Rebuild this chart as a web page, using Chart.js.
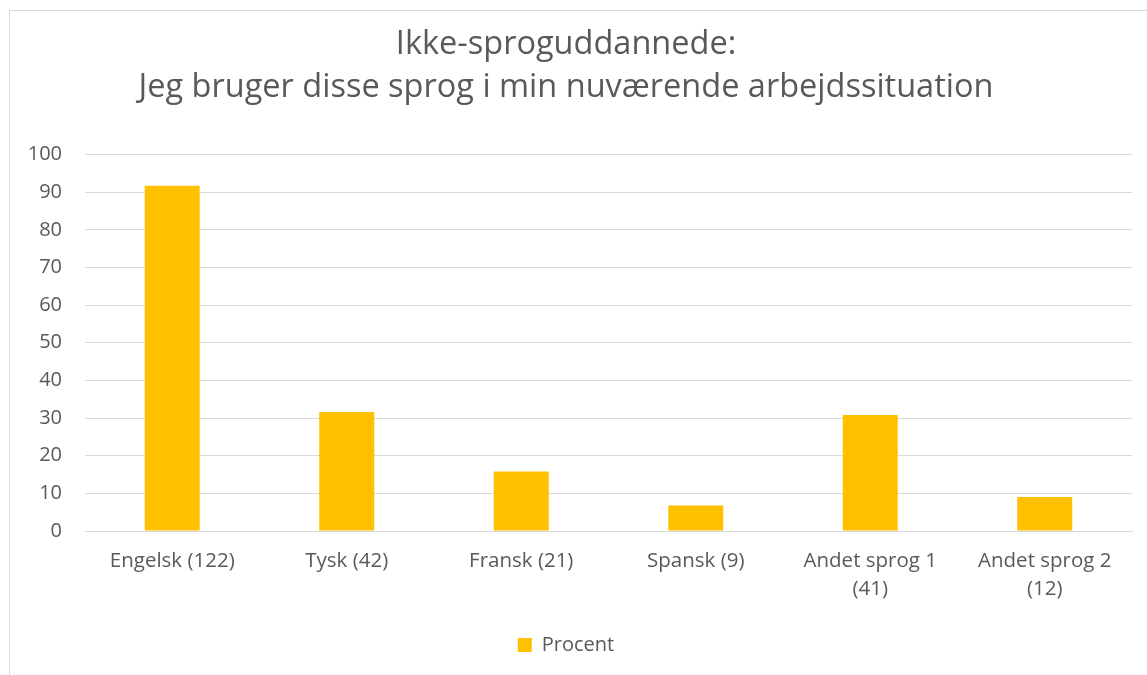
<!DOCTYPE html>
<html>
<head>
<meta charset="utf-8">
<script src="https://cdn.jsdelivr.net/npm/chart.js@4/dist/chart.umd.min.js"></script>
<style>
  body { margin: 0; background: #fff; }
  #frame { position: absolute; left: 9px; top: 10px; width: 1150px; height: 680px; border: 1px solid #d9d9d9; }
  #wrap { position: absolute; left: 0; top: 0; width: 1147px; height: 675px; }
</style>
</head>
<body>
<div id="frame"></div>
<div id="wrap"><canvas id="chart"></canvas></div>
<script>
// ==================
// Chart data
// ==================
const categories = ["Engelsk (122)", "Tysk (42)", "Fransk (21)", "Spansk (9)", ["Andet sprog 1", "(41)"], ["Andet sprog 2", "(12)"]];
const procent = [91.7, 31.6, 15.8, 6.8, 30.8, 9.0];
const yTicks = [0, 10, 20, 30, 40, 50, 60, 70, 80, 90, 100];
const titleLines = ["Ikke-sproguddannede:", "Jeg bruger disse sprog i min nuværende arbejdssituation"];

const textColor = "#595959";
const gridColor = "#d9d9d9";
const fontFamily = "'Open Sans', sans-serif";

const ctx = document.getElementById("chart").getContext("2d");
new Chart(ctx, {
  type: "bar",
  data: {
    labels: categories,
    datasets: [{
      label: "Procent",
      data: procent,
      backgroundColor: "#ffc000",
      borderWidth: 0,
      categoryPercentage: 1,
      barPercentage: 0.315
    }]
  },
  options: {
    responsive: true,
    maintainAspectRatio: false,
    animation: false,
    layout: { padding: { left: 0, right: 15, top: 0, bottom: 10 } },
    plugins: {
      title: {
        display: true,
        text: titleLines,
        color: textColor,
        font: { family: fontFamily, size: 32.5, weight: "normal", lineHeight: 1.3 },
        padding: { top: 24, bottom: 46 }
      },
      legend: {
        position: "bottom",
        labels: {
          color: textColor,
          font: { family: fontFamily, size: 20 },
          boxWidth: 14,
          boxHeight: 14,
          padding: 10
        }
      },
      tooltip: { enabled: false }
    },
    scales: {
      x: {
        grid: { display: false, drawTicks: false },
        border: { display: true, color: gridColor, width: 1 },
        ticks: {
          color: textColor,
          font: { family: fontFamily, size: 20.5, lineHeight: 1.37 },
          padding: 16,
          maxRotation: 0,
          autoSkip: false
        },
        afterFit: scale => { scale.height = 94; }
      },
      y: {
        min: 0,
        max: 100,
        afterBuildTicks: scale => { scale.ticks = yTicks.map(v => ({ value: v })); },
        grid: { color: gridColor, lineWidth: 1, drawTicks: false },
        border: { display: false },
        ticks: {
          color: textColor,
          font: { family: fontFamily, size: 20 },
          padding: 23
        },
        afterFit: scale => { scale.width = 85; }
      }
    }
  }
});
</script>
</body>
</html>
